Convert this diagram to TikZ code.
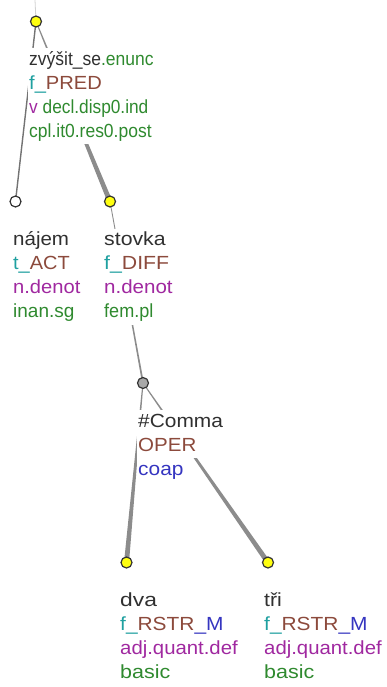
\documentclass[tikz,border=0pt]{standalone}
\usepackage{fontspec}
\setmainfont{Liberation Sans}
\usetikzlibrary{calc}
\definecolor{txtc}{HTML}{303030}
\definecolor{grn}{HTML}{2F8A2F}
\definecolor{teal2}{HTML}{1FA0A0}
\definecolor{brn}{HTML}{8C4A3C}
\definecolor{purp}{HTML}{A028A0}
\definecolor{blu}{HTML}{3535C0}
\definecolor{edgecol}{HTML}{8C8C8C}
\definecolor{ylw}{HTML}{FFFF10}
\definecolor{cgray}{HTML}{A8A8A8}
\newcommand\taperedge[4]{\fill[edgecol] ($(#1)!#3!90:(#2)$) -- ($(#2)!#4!-90:(#1)$) -- ($(#2)!#4!90:(#1)$) -- ($(#1)!#3!-90:(#2)$) -- cycle;}
\newcommand\sx[2]{\scalebox{#1}[1]{#2}}
\tikzset{
  lbl/.style={anchor=base west, fill=white, inner xsep=1pt, inner ysep=0pt,
    text height=17pt, text depth=7pt, text=txtc, font=\fontsize{19}{24}\selectfont},
  tnode/.style={circle, draw=black!80, line width=1.2pt, minimum size=11pt, inner sep=0pt},
}
\begin{document}
\begin{tikzpicture}[x=1pt,y=-1pt]
\useasboundingbox (0,0) rectangle (386,687);
% node centres
\coordinate (R) at (36,21.5);
\coordinate (N) at (15.5,201.5);
\coordinate (S) at (110,201.5);
\coordinate (C) at (143,383);
\coordinate (D) at (126.5,562.5);
\coordinate (T) at (268,562.5);
\coordinate (top) at (35,0);
% edges
\draw[gray!35, line width=0.8pt] (top) -- (R);
\draw[black!55, line width=1.4pt] (R) -- (N);
\taperedge{R}{S}{0.5pt}{2.5pt}
\taperedge{S}{C}{0.4pt}{0.9pt}
\taperedge{C}{D}{0.5pt}{2.5pt}
\taperedge{C}{T}{0.5pt}{2.5pt}
% labels
\node[lbl] (r1) at (28,65.5) {\sx{0.92}{zvýšit\_se\textcolor{grn}{.enunc}}};
\node[lbl] (r2) at (28,89.5) {\sx{1.06}{\textcolor{teal2}{f\_}\textcolor{brn}{PRED}}};
\node[lbl] (r3) at (28,113.5) {\sx{0.91}{\textcolor{purp}{v}~\textcolor{grn}{decl.disp0.ind}}};
\node[lbl] (r4) at (28,137.5) {\sx{0.92}{\textcolor{grn}{cpl.it0.res0.post}}};
\node[lbl] (n1) at (12,245.5) {\sx{1.08}{nájem}};
\node[lbl] (n2) at (12,269.5) {\sx{1.05}{\textcolor{teal2}{t\_}\textcolor{brn}{ACT}}};
\node[lbl] (n3) at (12,293.5) {\sx{1.06}{\textcolor{purp}{n.denot}}};
\node[lbl] (n4) at (12,317.5) {\sx{1.0}{\textcolor{grn}{inan.sg}}};
\node[lbl] (s1) at (103,245.5) {\sx{1.12}{stovka}};
\node[lbl] (s2) at (103,269.5) {\sx{1.12}{\textcolor{teal2}{f\_}\textcolor{brn}{DIFF}}};
\node[lbl] (s3) at (103,293.5) {\sx{1.08}{\textcolor{purp}{n.denot}}};
\node[lbl] (s4) at (103,317.5) {\sx{0.95}{\textcolor{grn}{fem.pl}}};
\node[lbl] (c1) at (137,427) {\sx{1.1}{\#Comma}};
\node[lbl] (c2) at (137,451) {\sx{1.08}{\textcolor{brn}{OPER}}};
\node[lbl] (c3) at (137,475) {\sx{1.1}{\textcolor{blu}{coap}}};
\node[lbl] (d1) at (119,606.5) {\sx{1.2}{dva}};
\node[lbl] (d2) at (119,630.5) {\sx{1.1}{\textcolor{teal2}{f\_}\textcolor{brn}{RSTR}\textcolor{blu}{\_M}}};
\node[lbl] (d3) at (119,654.5) {\sx{1.07}{\textcolor{purp}{adj.quant.def}}};
\node[lbl] (d4) at (119,678.5) {\sx{1.13}{\textcolor{grn}{basic}}};
\node[lbl] (t1) at (263,606.5) {\sx{1.12}{tři}};
\node[lbl] (t2) at (263,630.5) {\sx{1.1}{\textcolor{teal2}{f\_}\textcolor{brn}{RSTR}\textcolor{blu}{\_M}}};
\node[lbl] (t3) at (263,654.5) {\sx{1.07}{\textcolor{purp}{adj.quant.def}}};
\node[lbl] (t4) at (263,678.5) {\sx{1.13}{\textcolor{grn}{basic}}};
% tree nodes
\node[tnode, fill=ylw] (cR) at (R) {};
\node[tnode, fill=white] (cN) at (N) {};
\node[tnode, fill=ylw] (cS) at (S) {};
\node[tnode, fill=cgray] (cC) at (C) {};
\node[tnode, fill=ylw] (cD) at (D) {};
\node[tnode, fill=ylw] (cT) at (T) {};
\end{tikzpicture}
\end{document}
